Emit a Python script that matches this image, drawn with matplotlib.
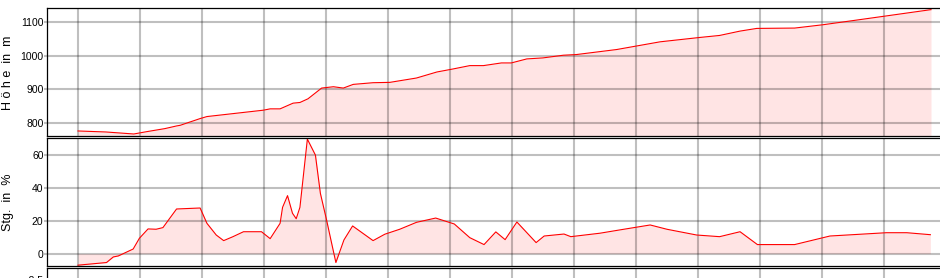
import matplotlib
matplotlib.use("Agg")
import matplotlib.pyplot as plt

plt.rcParams['font.family'] = ['Liberation Sans', 'DejaVu Sans']

# distance (grid units) and elevation in m
dist_h = [0.00, 0.45, 0.90, 1.11, 1.40, 1.59, 1.65, 1.97, 2.08, 2.99, 3.10, 3.26,
          3.47, 3.58, 3.71, 3.93, 4.12, 4.28, 4.44, 4.76, 5.03, 5.46, 5.79, 6.05,
          6.32, 6.54, 6.83, 6.99, 7.24, 7.50, 7.83, 8.04, 8.69, 9.39, 10.03, 10.35,
          10.68, 10.95, 11.56, 12.02, 12.45, 13.03, 13.76]
hoehe = [775, 772, 766, 773, 782, 790, 792, 812, 818, 837, 841, 841,
         858, 860, 871, 903, 907, 903, 914, 919, 920, 933, 951, 960,
         970, 970, 978, 978, 990, 993, 1001, 1003, 1018, 1041, 1054, 1060,
         1073, 1081, 1082, 1092, 1103, 1118, 1137]

# distance and gradient in %
dist_s = [0.00, 0.46, 0.57, 0.65, 0.89, 0.99, 1.13, 1.26, 1.37, 1.59, 1.97, 2.08,
          2.23, 2.35, 2.50, 2.67, 2.96, 3.10, 3.26, 3.30, 3.38, 3.46, 3.52, 3.58,
          3.70, 3.83, 3.91, 4.01, 4.08, 4.16, 4.29, 4.43, 4.76, 4.95, 5.19, 5.46,
          5.77, 6.07, 6.32, 6.55, 6.74, 6.89, 7.08, 7.39, 7.52, 7.84, 7.95, 8.42,
          8.74, 9.23, 9.50, 9.98, 10.35, 10.68, 10.96, 11.56, 12.13, 13.04, 13.37, 13.75]
steigung = [-7.0, -5.4, -2.0, -1.4, 2.8, 9.3, 15.0, 14.8, 15.8, 27.1, 27.7, 18.4,
            11.3, 7.9, 10.3, 13.3, 13.3, 9.1, 18.4, 28.1, 35.2, 24.5, 21.2, 28.1,
            69.5, 59.8, 36.6, 20.4, 8.3, -5.4, 8.3, 16.8, 7.9, 11.8, 14.8, 19.0,
            21.6, 18.0, 9.7, 5.5, 13.2, 8.5, 19.2, 6.7, 10.7, 11.9, 10.3, 12.4,
            14.4, 17.4, 14.8, 11.3, 10.3, 13.3, 5.5, 5.5, 10.7, 12.7, 12.7, 11.5]

W, H = 940, 278
fig = plt.figure(figsize=(W / 100, H / 100), dpi=100)

FILL = '#ffe4e4'
LINE = '#ff0000'
X0, X1 = -0.5, 14.26


def make_axes(top_px, height_px):
    ax = fig.add_axes([47 / W, 1 - (top_px + height_px) / H, (962 - 47) / W, height_px / H])
    ax.set_xlim(X0, X1)
    ax.set_xticks(range(0, 15))
    ax.tick_params(axis='x', length=0, labelbottom=False)
    ax.tick_params(axis='y', length=2, width=1.5, color='#bfbfbf', labelsize=7.5, pad=0.5)
    ax.grid(True, color='black', alpha=0.25, linewidth=1.5, zorder=2)
    ax.set_axisbelow(False)
    for s in ax.spines.values():
        s.set_linewidth(0.9)
        s.set_color('black')
        s.set_zorder(5)
    return ax


ax1 = make_axes(8.3, 127.7)
ax1.set_ylim(760, 1141)
ax1.set_yticks([800, 900, 1000, 1100])
ax1.fill_between(dist_h, hoehe, 760, color=FILL, linewidth=0, zorder=1)
ax1.plot(dist_h, hoehe, color=LINE, linewidth=0.8, zorder=3)

ax2 = make_axes(138.3, 127.7)
ax2.set_ylim(-7.5, 70)
ax2.set_yticks([0, 20, 40, 60])
ax2.fill_between(dist_s, steigung, 0, color=FILL, linewidth=0, zorder=1)
ax2.plot(dist_s, steigung, color=LINE, linewidth=0.8, zorder=3)

# third panel, only its top edge is inside the picture
ax3 = make_axes(268.3, 127.7)
ax3.set_ylim(-11.3, -1.6)
ax3.set_yticks([-2.5, -5.0, -7.5, -10.0])
ax3.set_yticklabels(['-2.5', '-5', '-7.5', '-10'])

fig.text(8 / W, 1 - 72.5 / H, 'H ö h e  in  m', rotation=90, ha='center', va='center', fontsize=9)
fig.text(8 / W, 1 - 202.5 / H, 'Stg.  in  %', rotation=90, ha='center', va='center', fontsize=9)

fig.savefig('out.png', dpi=100)
